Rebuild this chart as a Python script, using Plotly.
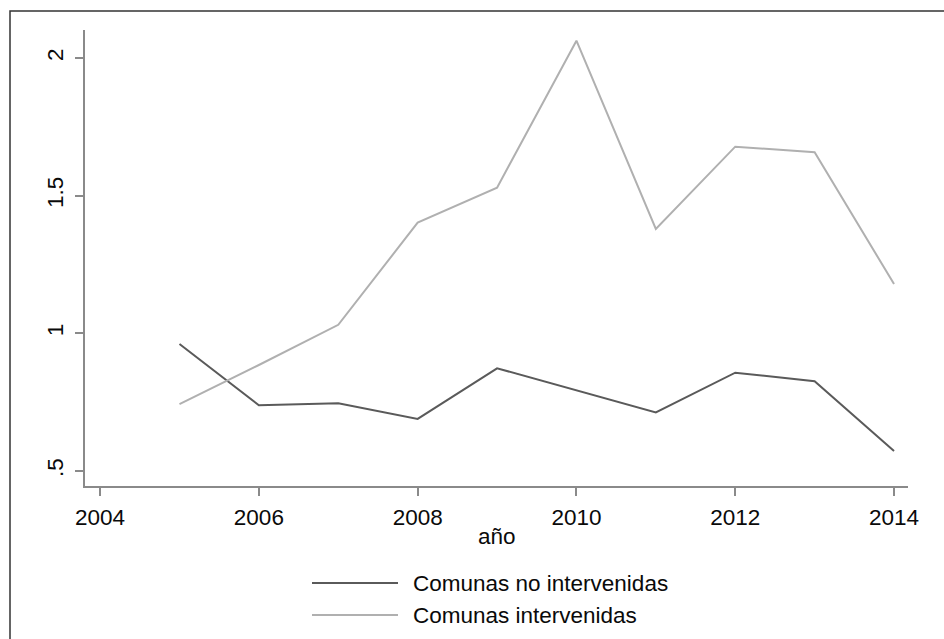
import plotly.graph_objects as go

years = [2005, 2006, 2007, 2008, 2009, 2010, 2011, 2012, 2013, 2014]
no_intervenidas = [0.961, 0.739, 0.746, 0.689, 0.873, 0.794, 0.713, 0.857, 0.826, 0.573]
intervenidas = [0.743, 0.885, 1.031, 1.402, 1.529, 2.063, 1.379, 1.678, 1.658, 1.179]

series_names = ["Comunas no intervenidas", "Comunas intervenidas"]
series_colors = ["#5a5a5a", "#b0b0b0"]

x_ticks = [2004, 2006, 2008, 2010, 2012, 2014]
y_ticks = [0.5, 1, 1.5, 2]
y_tick_text = [".5", "1", "1.5", "2"]

W, H = 944, 639
L, R, T, B = 85, 36, 30, 153
pw, ph = W - L - R, H - T - B


def px(x):
    return (x - L) / pw


def py(y):
    return (H - B - y) / ph


fig = go.Figure()
for name, vals, col in zip(series_names, [no_intervenidas, intervenidas], series_colors):
    fig.add_trace(go.Scatter(x=years, y=vals, mode="lines", name=name,
                             line=dict(color=col, width=2), showlegend=False))

font = dict(family="Liberation Sans, Arial, sans-serif", size=22.5, color="#0a0a0a")

shapes = [dict(type="rect", xref="paper", yref="paper",
               x0=px(10), x1=px(950), y0=py(650), y1=py(11),
               line=dict(color="#333", width=1.5), layer="above")]
annotations = []
leg_y = [583, 615]
for name, col, yy in zip(series_names, series_colors, leg_y):
    shapes.append(dict(type="line", xref="paper", yref="paper",
                       x0=px(312), x1=px(398), y0=py(yy), y1=py(yy),
                       line=dict(color=col, width=2)))
    annotations.append(dict(xref="paper", yref="paper", x=px(411), y=py(yy),
                            text=name, showarrow=False, xanchor="left",
                            yanchor="middle", font=font))
annotations.append(dict(xref="paper", yref="paper", x=px(497), y=py(536),
                        text="año", showarrow=False, xanchor="center",
                        yanchor="middle", font=font))

fig.update_layout(
    width=W, height=H,
    margin=dict(l=L, r=R, t=T, b=B, pad=0),
    paper_bgcolor="white", plot_bgcolor="white",
    font=font,
    shapes=shapes, annotations=annotations,
    xaxis=dict(range=[2003.81, 2014.176], tickvals=x_ticks, showgrid=False,
               zeroline=False, showline=True, linecolor="#8a8a8a", linewidth=2,
               ticks="outside", ticklen=8, tickwidth=2, tickcolor="#8a8a8a",
               tickfont=font, ticklabelstandoff=2),
    yaxis=dict(range=[0.4455, 2.1017], tickvals=y_ticks, ticktext=y_tick_text,
               showgrid=False, zeroline=False, showline=True, linecolor="#8a8a8a",
               linewidth=2, ticks="outside", ticklen=8, tickwidth=2,
               tickcolor="#8a8a8a", tickangle=-90, tickfont=font,
               ticklabelstandoff=3),
)

fig.write_html("out.html")
